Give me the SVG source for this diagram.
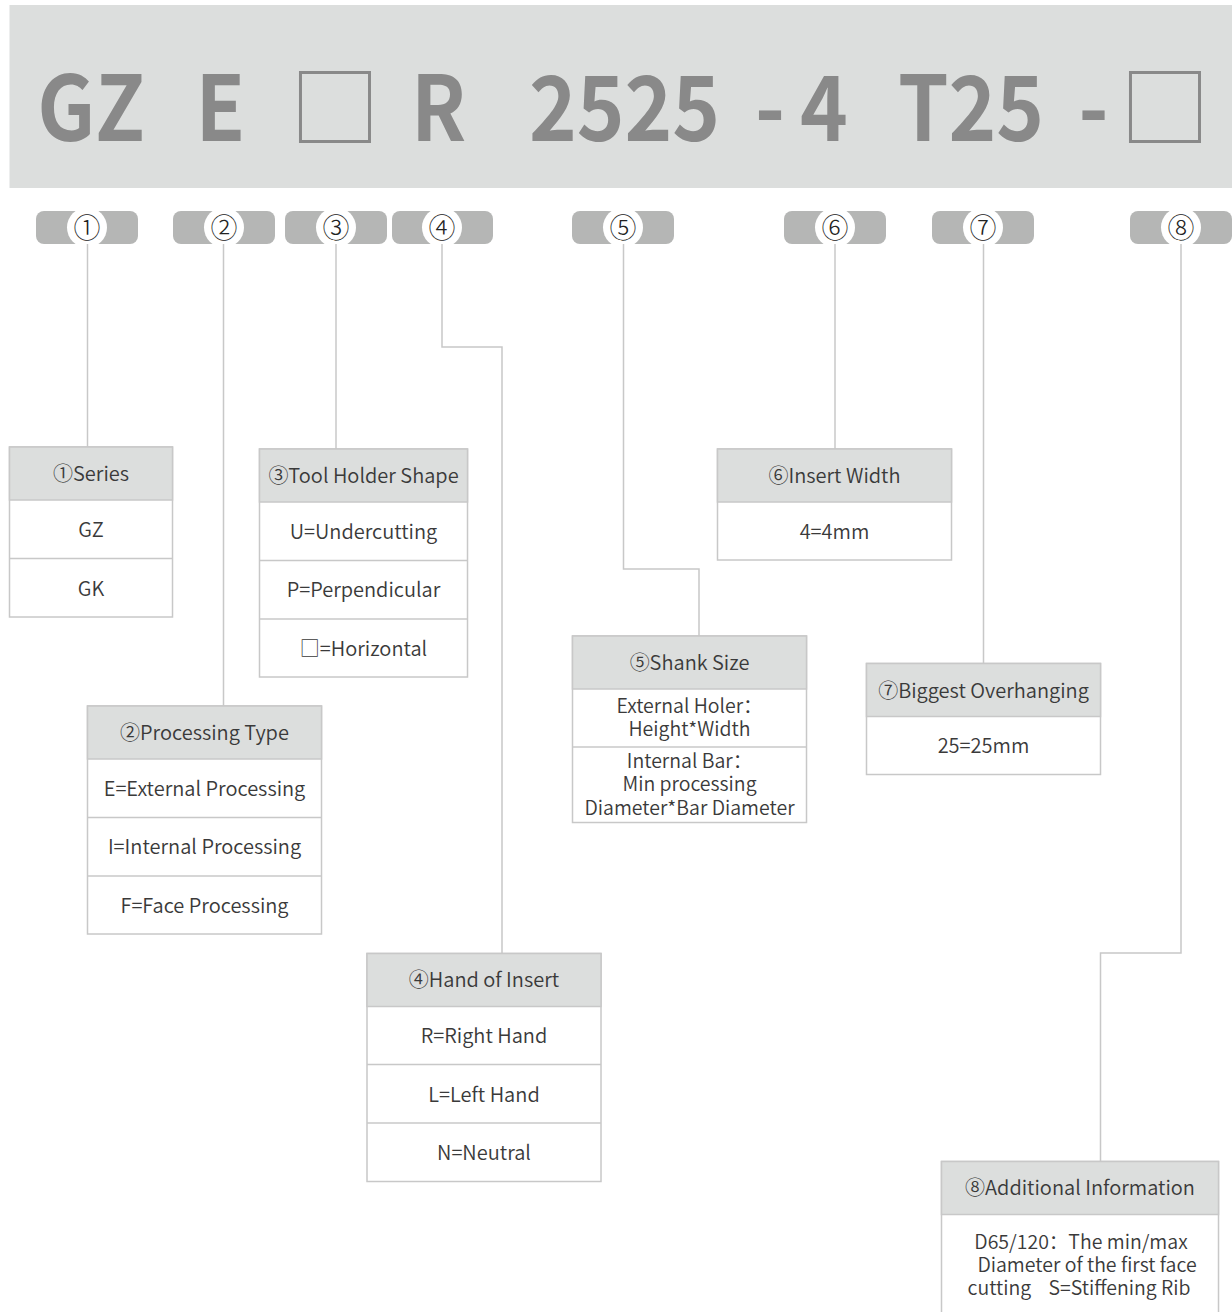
<svg xmlns="http://www.w3.org/2000/svg" width="1232" height="1312" viewBox="0 0 1232 1312">
<style>
.title{font-family:"Noto Sans CJK SC","Noto Sans",sans-serif;font-weight:700;font-size:90px;fill:#898989;text-anchor:middle}
.sq{font-family:"Noto Sans CJK SC",sans-serif;font-weight:300;font-size:90px;fill:#898989;text-anchor:middle}
.badge{fill:#b5b6b5}
.hole{fill:#ffffff}
.num{font-family:"Noto Sans CJK SC",sans-serif;font-weight:300;font-size:27px;fill:#222;text-anchor:middle}
.box{fill:#ffffff;stroke:#c8c8c8;stroke-width:1.5}
.hdr{fill:#dcdedd;stroke:#c8c8c8;stroke-width:1.5}
.sep{stroke:#c8c8c8;stroke-width:1.5}
.t{font-family:"Noto Sans CJK SC","Noto Sans",sans-serif;font-weight:350;font-size:20px;fill:#3a3a3a;text-anchor:middle}
.s{font-size:19.5px}
.conn{fill:none;stroke:#c8c8c8;stroke-width:1.5}
</style>
<rect x="9.5" y="5" width="1222.5" height="183" fill="#dcdedd"/>
<g id="code">
<text class="title" transform="translate(91,141) scale(0.9,1)">GZ</text>
<text class="title" transform="translate(220.5,141) scale(0.9,1)">E</text>
<text class="sq" x="335" y="141">□</text>
<text class="title" transform="translate(438.5,141) scale(0.9,1)">R</text>
<text class="title" transform="translate(624.5,141) scale(0.9,1)">2525</text>
<text class="title" transform="translate(770,141) scale(0.9,1)">-</text>
<text class="title" transform="translate(824,141) scale(0.9,1)">4</text>
<text class="title" transform="translate(971,141) scale(0.9,1)">T25</text>
<text class="title" transform="translate(1093.5,141) scale(0.9,1)">-</text>
<text class="sq" x="1165" y="141">□</text>
</g>
<g id="badges">
<g id="badge1"><rect class="badge" x="36" y="211" width="102" height="33" rx="8"/><circle class="hole" cx="87" cy="227.5" r="20"/><text class="num" x="87" y="237.5">①</text></g>
<g id="badge2"><rect class="badge" x="173" y="211" width="102" height="33" rx="8"/><circle class="hole" cx="224" cy="227.5" r="20"/><text class="num" x="224" y="237.5">②</text></g>
<g id="badge3"><rect class="badge" x="285" y="211" width="102" height="33" rx="8"/><circle class="hole" cx="336" cy="227.5" r="20"/><text class="num" x="336" y="237.5">③</text></g>
<g id="badge4"><rect class="badge" x="392" y="211" width="101" height="33" rx="8"/><circle class="hole" cx="442" cy="227.5" r="20"/><text class="num" x="442" y="237.5">④</text></g>
<g id="badge5"><rect class="badge" x="572" y="211" width="102" height="33" rx="8"/><circle class="hole" cx="623" cy="227.5" r="20"/><text class="num" x="623" y="237.5">⑤</text></g>
<g id="badge6"><rect class="badge" x="784" y="211" width="102" height="33" rx="8"/><circle class="hole" cx="835" cy="227.5" r="20"/><text class="num" x="835" y="237.5">⑥</text></g>
<g id="badge7"><rect class="badge" x="932" y="211" width="102" height="33" rx="8"/><circle class="hole" cx="983" cy="227.5" r="20"/><text class="num" x="983" y="237.5">⑦</text></g>
<g id="badge8"><rect class="badge" x="1130" y="211" width="102" height="33" rx="8"/><circle class="hole" cx="1181" cy="227.5" r="20"/><text class="num" x="1181" y="237.5">⑧</text></g>
</g>
<g id="connectors">
<path class="conn" d="M87.5,244 V447"/>
<path class="conn" d="M223.5,244 V706"/>
<path class="conn" d="M336,244 V449"/>
<path class="conn" d="M442,244 V347 H502 V953"/>
<path class="conn" d="M623.5,244 V569 H699 V636"/>
<path class="conn" d="M835,244 V449"/>
<path class="conn" d="M983.5,244 V663"/>
<path class="conn" d="M1181,244 V953 H1100.5 V1161"/>
</g>
<g id="box1">
<rect class="box" x="9.5" y="447" width="163" height="170"/>
<rect class="hdr" x="9.5" y="447" width="163" height="53"/>
<line class="sep" x1="9.5" y1="558.5" x2="172.5" y2="558.5"/>
<text class="t" x="91" y="481">①Series</text>
<text class="t" x="91" y="537">GZ</text>
<text class="t" x="91" y="596">GK</text>
</g>
<g id="box3">
<rect class="box" x="259.5" y="449" width="208" height="228"/>
<rect class="hdr" x="259.5" y="449" width="208" height="53"/>
<line class="sep" x1="259.5" y1="560.5" x2="467.5" y2="560.5"/>
<line class="sep" x1="259.5" y1="619" x2="467.5" y2="619"/>
<text class="t" x="363.5" y="483">③Tool Holder Shape</text>
<text class="t" x="363.5" y="539">U=Undercutting</text>
<text class="t" x="363.5" y="597">P=Perpendicular</text>
<text class="t" x="363.5" y="656">□=Horizontal</text>
</g>
<g id="box2">
<rect class="box" x="87.5" y="706" width="234" height="228"/>
<rect class="hdr" x="87.5" y="706" width="234" height="53"/>
<line class="sep" x1="87.5" y1="817.5" x2="321.5" y2="817.5"/>
<line class="sep" x1="87.5" y1="876" x2="321.5" y2="876"/>
<text class="t" x="204.5" y="740">②Processing Type</text>
<text class="t" x="204.5" y="796">E=External Processing</text>
<text class="t" x="204.5" y="854">I=Internal Processing</text>
<text class="t" x="204.5" y="913">F=Face Processing</text>
</g>
<g id="box4">
<rect class="box" x="367" y="953.5" width="234" height="228"/>
<rect class="hdr" x="367" y="953.5" width="234" height="53"/>
<line class="sep" x1="367" y1="1064.5" x2="601" y2="1064.5"/>
<line class="sep" x1="367" y1="1123" x2="601" y2="1123"/>
<text class="t" x="484" y="987">④Hand of Insert</text>
<text class="t" x="484" y="1043">R=Right Hand</text>
<text class="t" x="484" y="1102">L=Left Hand</text>
<text class="t" x="484" y="1160">N=Neutral</text>
</g>
<g id="box5">
<rect class="box" x="572.5" y="636" width="234" height="186.5"/>
<rect class="hdr" x="572.5" y="636" width="234" height="53"/>
<line class="sep" x1="572.5" y1="747" x2="806.5" y2="747"/>
<text class="t" x="689.5" y="670">⑤Shank Size</text>
<text class="t s" x="689.5" y="712.5">External Holer：</text>
<text class="t s" x="689.5" y="736">Height*Width</text>
<text class="t s" x="689.5" y="767.5">Internal Bar：</text>
<text class="t s" x="689.5" y="791">Min processing</text>
<text class="t s" x="689.5" y="815">Diameter*Bar Diameter</text>
</g>
<g id="box6">
<rect class="box" x="717.5" y="449" width="234" height="111"/>
<rect class="hdr" x="717.5" y="449" width="234" height="53"/>
<text class="t" x="834.5" y="483">⑥Insert Width</text>
<text class="t" x="834.5" y="539">4=4mm</text>
</g>
<g id="box7">
<rect class="box" x="866.5" y="663.5" width="234" height="111"/>
<rect class="hdr" x="866.5" y="663.5" width="234" height="53"/>
<text class="t" x="983.5" y="697.5">⑦Biggest Overhanging</text>
<text class="t" x="983.5" y="753">25=25mm</text>
</g>
<g id="box8">
<rect class="box" x="941.5" y="1161.5" width="277" height="160"/>
<rect class="hdr" x="941.5" y="1161.5" width="277" height="53"/>
<text class="t" x="1080" y="1195">⑧Additional Information</text>
<text class="t s" x="1081" y="1249" xml:space="preserve">D65/120：The min/max</text>
<text class="t s" x="1087" y="1272">Diameter of the first face</text>
<text class="t s" x="1079" y="1295" xml:space="preserve">cutting    S=Stiffening Rib</text>
</g>
</svg>
